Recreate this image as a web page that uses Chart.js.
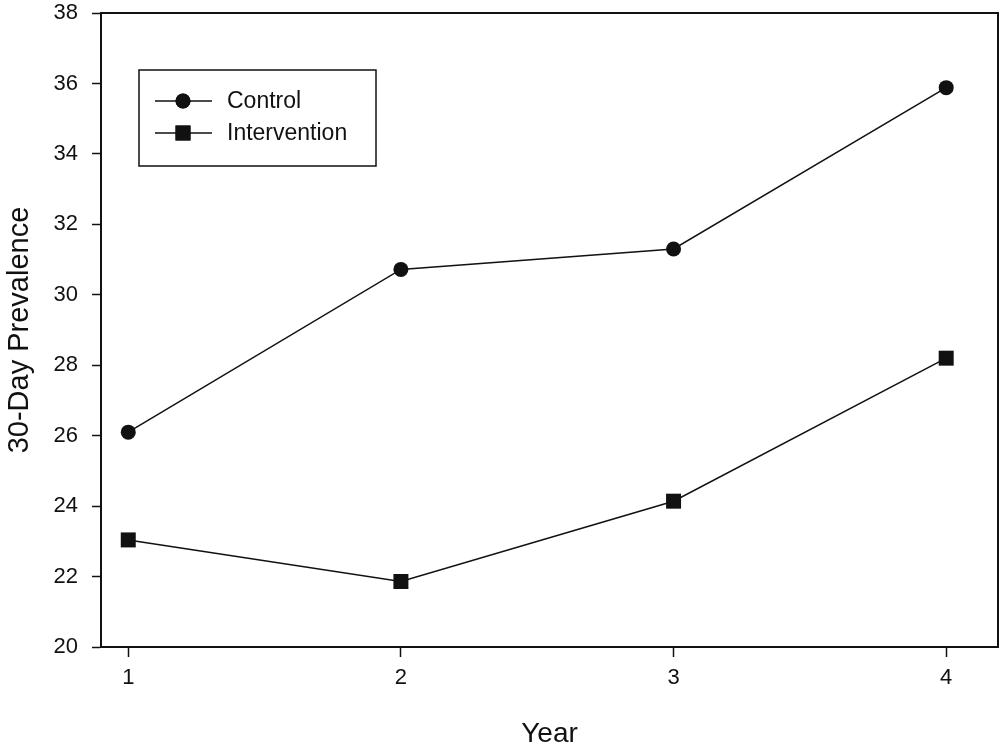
<!DOCTYPE html>
<html>
<head>
<meta charset="utf-8">
<title>30-Day Prevalence by Year</title>
<script src="https://cdn.jsdelivr.net/npm/chart.js"></script>
<style>
    html, body { margin: 0; padding: 0; background: #fff; }
    #wrap { width: 1000px; height: 748px; }
</style>
</head>
<body>
<div id="wrap"><canvas id="prevChart"></canvas></div>
<script>
// data
const years = [1, 2, 3, 4];
const controlValues = [26.1, 30.72, 31.3, 35.88];
const interventionValues = [23.04, 21.86, 24.14, 28.2];
const yTicks = [20, 22, 24, 26, 28, 30, 32, 34, 36, 38];
const seriesLabels = ["Control", "Intervention"];

const FONT = "'Liberation Sans', Arial, sans-serif";
const INK = "#111";

const toPoints = (vals) => vals.map((v, i) => ({ x: years[i], y: v }));

// box round the plot plus the legend inside it
const boxAndLegend = {
    id: "boxAndLegend",
    afterDraw(chart) {
        const ctx = chart.ctx;
        const area = chart.chartArea;
        ctx.save();
        ctx.strokeStyle = INK;
        ctx.lineWidth = 2;
        ctx.strokeRect(area.left, area.top, area.right - area.left, area.bottom - area.top);

        const bx = area.left + 38, by = area.top + 57;
        ctx.lineWidth = 1.5;
        ctx.strokeRect(bx, by, 237, 96);

        ctx.font = "23px " + FONT;
        ctx.textBaseline = "middle";
        ctx.fillStyle = INK;
        chart.data.datasets.forEach((ds, i) => {
            const y = by + 31 + i * 32;
            ctx.beginPath();
            ctx.lineWidth = 1.5;
            ctx.moveTo(bx + 16, y);
            ctx.lineTo(bx + 73, y);
            ctx.stroke();
            Chart.helpers.drawPoint(ctx, {
                pointStyle: ds.pointStyle,
                radius: ds.pointRadius,
                rotation: 0,
                borderWidth: 0
            }, bx + 44, y);
            ctx.fill();
            ctx.fillText(ds.label, bx + 88, y + 1);
        });
        ctx.restore();
    }
};

new Chart(document.getElementById("prevChart").getContext("2d"), {
    type: "line",
    data: {
        datasets: [
            {
                label: seriesLabels[0],
                data: toPoints(controlValues),
                borderColor: INK,
                backgroundColor: INK,
                borderWidth: 1.5,
                pointStyle: "circle",
                pointRadius: 7.5,
                pointBorderWidth: 0,
                tension: 0
            },
            {
                label: seriesLabels[1],
                data: toPoints(interventionValues),
                borderColor: INK,
                backgroundColor: INK,
                borderWidth: 1.5,
                pointStyle: "rect",
                pointRadius: 10.6,
                pointBorderWidth: 0,
                tension: 0
            }
        ]
    },
    options: {
        responsive: true,
        maintainAspectRatio: false,
        animation: false,
        layout: { autoPadding: false, padding: { top: 0, right: 2, left: 0, bottom: 0 } },
        plugins: {
            legend: { display: false },
            tooltip: { enabled: false }
        },
        scales: {
            x: {
                type: "linear",
                min: 0.9,
                max: 4.19,
                afterBuildTicks: (s) => { s.ticks = years.map(v => ({ value: v })); },
                afterFit: (s) => { s.height = 101; },
                grid: { drawOnChartArea: false, tickLength: 10, color: INK, tickWidth: 1.5 },
                border: { display: true, color: INK, width: 2 },
                ticks: { color: INK, font: { family: FONT, size: 22 }, padding: 8 },
                title: {
                    display: true,
                    text: "Year",
                    color: INK,
                    font: { family: FONT, size: 28, lineHeight: 1 },
                    padding: 0
                }
            },
            y: {
                min: 20,
                max: 38,
                afterBuildTicks: (s) => { s.ticks = yTicks.map(v => ({ value: v })); },
                afterFit: (s) => {
                    s.width = 101;
                    s.paddingTop = 13;
                    s.paddingBottom = 0;
                },
                grid: { drawOnChartArea: false, tickLength: 9, color: INK, tickWidth: 1.5 },
                border: { display: true, color: INK, width: 2 },
                ticks: { color: INK, font: { family: FONT, size: 22 }, padding: 14 },
                title: {
                    display: true,
                    text: "30-Day Prevalence",
                    color: INK,
                    font: { family: FONT, size: 29, lineHeight: 1.2 },
                    padding: { top: 3, bottom: 0 }
                }
            }
        }
    },
    plugins: [boxAndLegend]
});
</script>
</body>
</html>
